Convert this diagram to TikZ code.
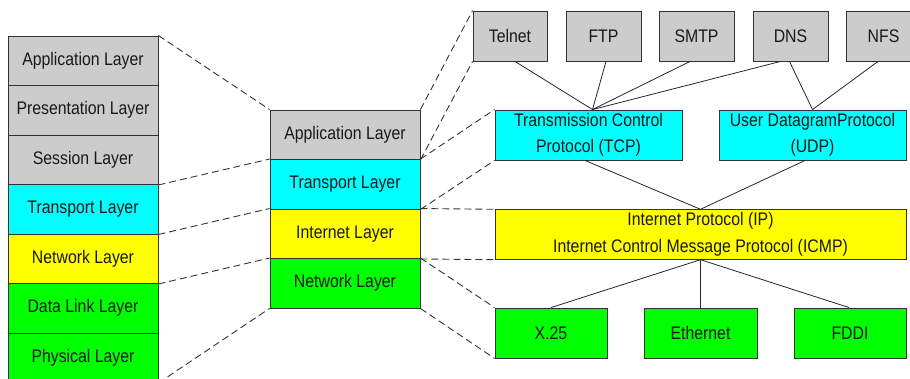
\documentclass[tikz,border=0pt]{standalone}
\usepackage{fontspec}
\setmainfont{Liberation Sans}[FakeStretch=0.87]
\definecolor{boxcyan}{RGB}{0,255,255}
\definecolor{boxyellow}{RGB}{255,255,0}
\definecolor{boxgreen}{RGB}{0,255,0}
\definecolor{boxgray}{RGB}{204,204,204}
\begin{document}
\begin{tikzpicture}[x=1pt,y=-1pt,
  box/.style={draw=black!80, line width=0.9pt, inner sep=0pt, align=center,
    text=black!90, font=\fontsize{18.2}{26.5}\selectfont},
  gbox/.style={box, fill=boxgray},
  cbox/.style={box, fill=boxcyan},
  ybox/.style={box, fill=boxyellow},
  nbox/.style={box, fill=boxgreen},
  layer/.style={minimum width=150pt, minimum height=49.5pt},
  dline/.style={draw=black!80, line width=0.9pt, dash pattern=on 7pt off 4pt},
  sline/.style={draw=black!85, line width=0.8pt}
]
\useasboundingbox (0,0) rectangle (910,379);
\clip (0,0) rectangle (910,379);

% OSI stack
\node[gbox, layer] (L1) at (83,60.75) {Application Layer};
\node[gbox, layer] (L2) at (83,110.25) {Presentation Layer};
\node[gbox, layer] (L3) at (83,159.75) {Session Layer};
\node[cbox, layer] (L4) at (83,209.25) {Transport Layer};
\node[ybox, layer] (L5) at (83,258.75) {Network Layer};
\node[nbox, layer] (L6) at (83,308.25) {Data Link Layer};
\node[nbox, layer] (L7) at (83,357.75) {Physical Layer};

% TCP/IP stack
\node[gbox, layer] (M1) at (345,134.75) {Application Layer};
\node[cbox, layer] (M2) at (345,184.25) {Transport Layer};
\node[ybox, layer] (M3) at (345,233.75) {Internet Layer};
\node[nbox, layer] (M4) at (345,283.25) {Network Layer};

% applications
\node[gbox, minimum width=74pt, minimum height=50pt] (telnet) at (510,36) {Telnet};
\node[gbox, minimum width=75pt, minimum height=50pt] (ftp) at (603.5,36) {FTP};
\node[gbox, minimum width=75pt, minimum height=50pt] (smtp) at (696.5,36) {SMTP};
\node[gbox, minimum width=75pt, minimum height=50pt] (dns) at (790.5,36) {DNS};
\node[gbox, minimum width=75pt, minimum height=50pt] (nfs) at (883.5,36) {NFS};

% transport
\node[cbox, minimum width=187pt, minimum height=50pt] (tcp) at (588.5,135) {Transmission Control\\Protocol (TCP)};
\node[cbox, minimum width=187pt, minimum height=50pt] (udp) at (812.5,135) {User DatagramProtocol\\(UDP)};

% internet
\node[ybox, minimum width=411pt, minimum height=49.5pt] (ip) at (700.5,234.5) {Internet Protocol (IP)\\Internet Control Message Protocol (ICMP)};

% network
\node[nbox, minimum width=112pt, minimum height=50pt] (x25) at (551,333) {X.25};
\node[nbox, minimum width=113pt, minimum height=50pt] (eth) at (700.5,333) {Ethernet};
\node[nbox, minimum width=112pt, minimum height=50pt] (fddi) at (850,333) {FDDI};

% dashed mapping lines OSI -> TCP/IP
\draw[dline] (L1.north east) -- (M1.north west);
\draw[dline] (L3.south east) -- (M2.north west);
\draw[dline] (L4.south east) -- (M3.north west);
\draw[dline] (L5.south east) -- (M4.north west);
\draw[dline] (L7.south east) -- (M4.south west);

% dashed mapping lines TCP/IP -> protocols
\draw[dline] (M1.north east) -- (telnet.north west);
\draw[dline] (M1.south east) -- (telnet.south west);
\draw[dline] (M2.north east) -- (tcp.north west);
\draw[dline] (M2.south east) -- (tcp.south west);
\draw[dline] (M3.north east) -- (ip.north west);
\draw[dline] (M3.south east) -- (ip.south west);
\draw[dline] (M4.north east) -- (x25.north west);
\draw[dline] (M4.south east) -- (x25.south west);

% solid protocol connectors
\draw[sline] ([xshift=5pt]telnet.south) -- ([xshift=4pt]tcp.north);
\draw[sline] ([xshift=2.5pt]ftp.south) -- ([xshift=4pt]tcp.north);
\draw[sline] ([xshift=-6.5pt]smtp.south) -- ([xshift=4pt]tcp.north);
\draw[sline] ([xshift=-10pt]dns.south) -- ([xshift=4pt]tcp.north);
\draw[sline] ([xshift=-1pt]dns.south) -- (udp.north);
\draw[sline] ([xshift=-5.5pt]nfs.south) -- (udp.north);
\draw[sline] ([xshift=-3.5pt]tcp.south) -- (ip.north);
\draw[sline] ([xshift=-7.5pt]udp.south) -- (ip.north);
\draw[sline] (ip.south) -- (x25.north);
\draw[sline] (ip.south) -- (eth.north);
\draw[sline] (ip.south) -- ([xshift=-1pt]fddi.north);
\end{tikzpicture}
\end{document}
